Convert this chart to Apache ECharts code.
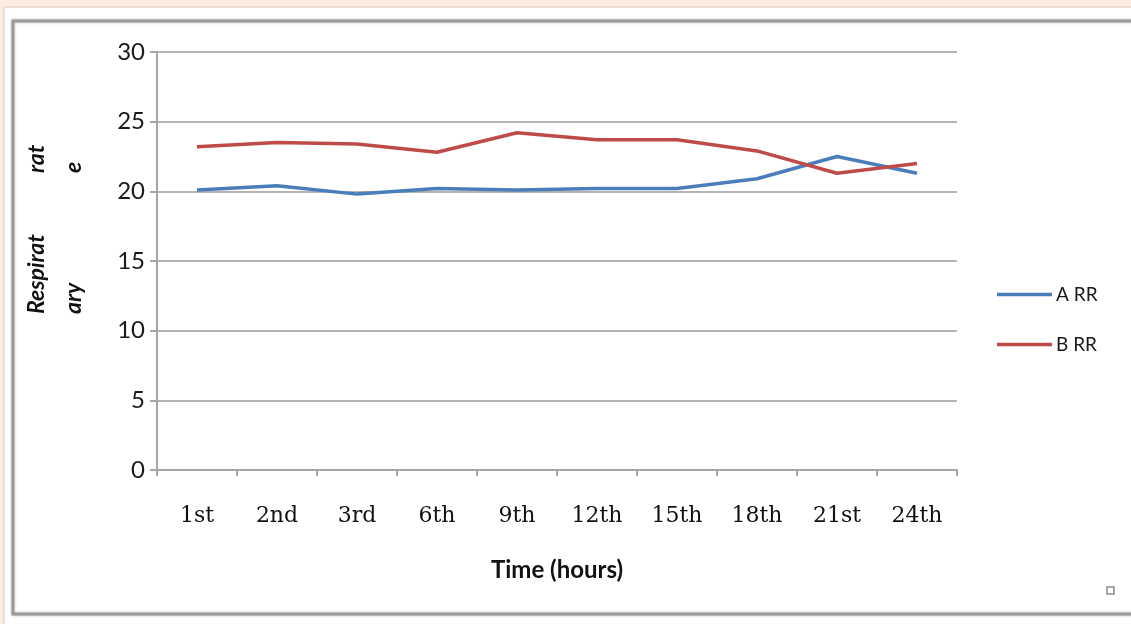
<!DOCTYPE html>
<html>
<head>
<meta charset="utf-8">
<script src="https://cdn.jsdelivr.net/npm/echarts@6/dist/echarts.min.js"></script>
<style>
  html, body { margin: 0; padding: 0; background: #fbede2; }
  #chart { width: 1131px; height: 624px; }
</style>
</head>
<body>
<div id="chart"></div>
<script>
// Respiratory rate over 24 hours, two groups
const hours = ['1st', '2nd', '3rd', '6th', '9th', '12th', '15th', '18th', '21st', '24th'];
const groupA = [20.1, 20.4, 19.8, 20.2, 20.1, 20.2, 20.2, 20.9, 22.5, 21.3];
const groupB = [23.2, 23.5, 23.4, 22.8, 24.2, 23.7, 23.7, 22.9, 21.3, 22.0];
const seriesNames = ['A RR', 'B RR'];
const yTicks = { min: 0, max: 30, interval: 5 };

const chart = echarts.init(document.getElementById('chart'), null, { renderer: 'canvas' });

const axisGray = '#a6a6a6';
const labelFont = 'Lato, "Open Sans", sans-serif';
const titleFont = 'italic bold 23px ' + labelFont;

// rotated fragments of the y-axis title, reading bottom to top
function sideText(text, x, y) {
  return { type: 'text', rotation: Math.PI / 2, x: x, y: y,
           style: { text: text, font: titleFont, fill: '#111' } };
}

chart.setOption({
  backgroundColor: '#fbede2',
  animation: false,
  graphic: [
    // white sheet behind the chart
    { type: 'rect', z: -10, shape: { x: 4, y: 7, width: 1140, height: 630 },
      style: { fill: '#ffffff', stroke: '#dcc6b8', lineWidth: 1 } },
    // chart frame
    { type: 'rect', z: -9, shape: { x: 13, y: 21, width: 1130, height: 593 },
      style: { fill: '#ffffff', stroke: '#9a9a9a', lineWidth: 3,
               shadowColor: 'rgba(0,0,0,0.25)', shadowBlur: 3 } },
    sideText('Respirat', 25, 314),
    sideText('rat', 25, 173),
    sideText('ary', 62, 314),
    sideText('e', 62, 173),
    // small marker at the corner
    { type: 'rect', shape: { x: 1107, y: 587, width: 7, height: 7 },
      style: { fill: 'none', stroke: '#8a8a8a', lineWidth: 1.5 } }
  ],
  grid: { left: 157, right: 174, top: 52, bottom: 154, containLabel: false },
  legend: {
    orient: 'vertical',
    left: 997,
    top: 285,
    padding: 0,
    itemWidth: 55,
    itemHeight: 20,
    itemGap: 31,
    icon: 'path://M0,9 L55,9 L55,12.5 L0,12.5 Z',
    data: seriesNames,
    textStyle: { fontFamily: labelFont, fontSize: 19, color: '#1a1a1a', padding: [0, 0, 0, -1] }
  },
  xAxis: {
    type: 'category',
    data: hours,
    boundaryGap: true,
    name: 'Time (hours)',
    nameLocation: 'middle',
    nameGap: 88,
    nameTextStyle: { fontFamily: labelFont, fontWeight: 'bold', fontSize: 24, color: '#111' },
    axisLine: { lineStyle: { color: axisGray, width: 2 } },
    axisTick: { show: true, length: 6, lineStyle: { color: axisGray, width: 2 } },
    axisLabel: { margin: 35, fontFamily: '"DejaVu Serif", "Liberation Serif", serif',
                 fontSize: 22, color: '#111' }
  },
  yAxis: {
    type: 'value',
    min: yTicks.min,
    max: yTicks.max,
    interval: yTicks.interval,
    axisLine: { show: true, lineStyle: { color: axisGray, width: 2 } },
    axisTick: { show: true, length: 7, lineStyle: { color: axisGray, width: 2 } },
    axisLabel: { margin: 12, fontFamily: labelFont, fontSize: 24, color: '#1a1a1a' },
    splitLine: { show: true, lineStyle: { color: '#b3b3b3', width: 2 } }
  },
  series: [
    { name: seriesNames[0], type: 'line', data: groupA, symbol: 'none', smooth: false,
      itemStyle: { color: '#4a7ebb' }, lineStyle: { color: '#4a7ebb', width: 3.5 } },
    { name: seriesNames[1], type: 'line', data: groupB, symbol: 'none', smooth: false,
      itemStyle: { color: '#be4b48' }, lineStyle: { color: '#be4b48', width: 3.5 } }
  ]
});
</script>
</body>
</html>
